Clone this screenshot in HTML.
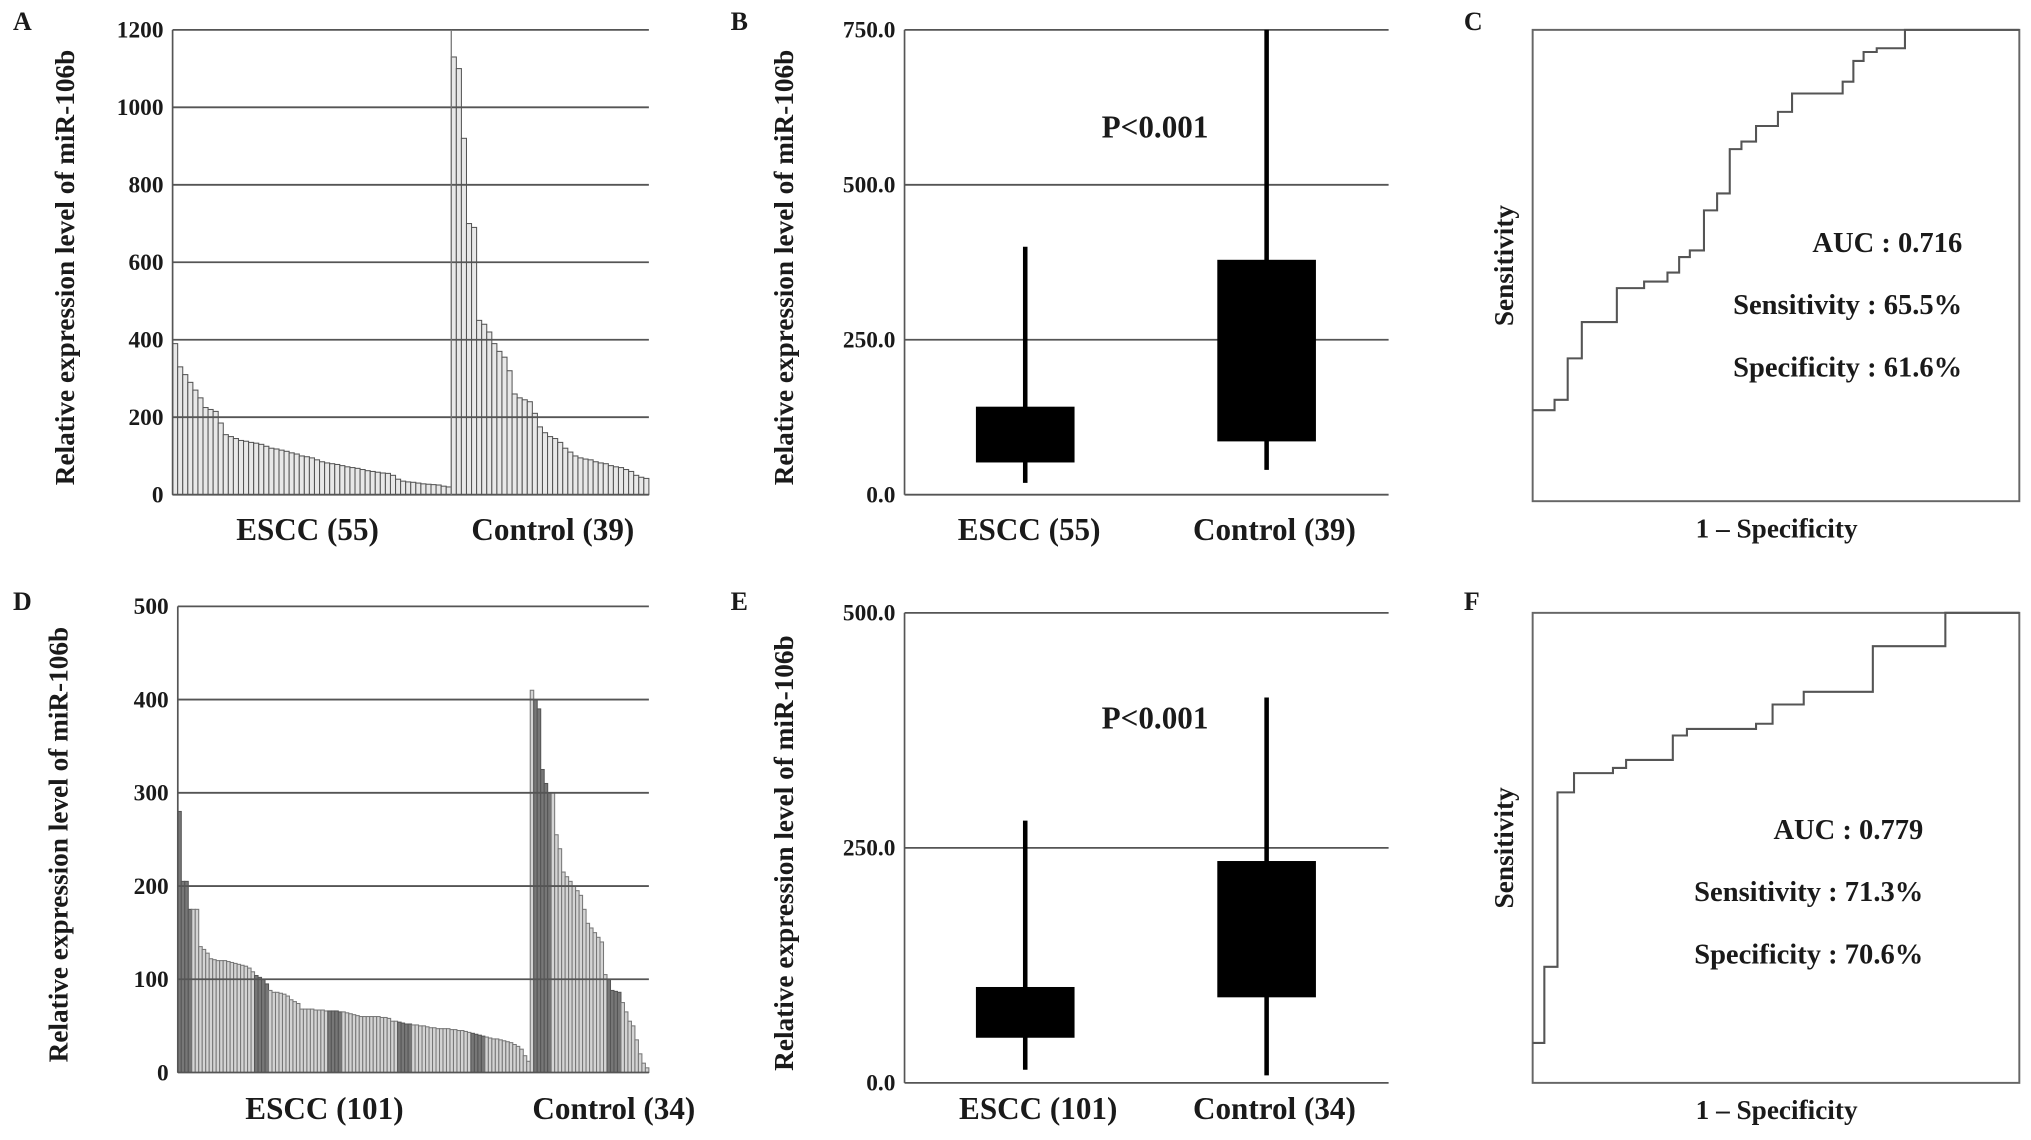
<!DOCTYPE html>
<html><head><meta charset="utf-8"><style>
html,body{margin:0;padding:0;background:#fff;}
svg{display:block;font-family:"Liberation Serif",serif;font-weight:bold;}
</style></head><body>
<svg id="fig" width="2031" height="1140" viewBox="0 0 1565 878" preserveAspectRatio="none" xmlns="http://www.w3.org/2000/svg"></svg>
<script>
// Panel A data
const aEscc=[390,330,310,290,270,250,225,220,215,185,155,150,145,140,138,135,133,130,125,120,118,115,112,108,105,100,98,95,90,85,82,80,78,75,72,70,68,65,62,60,58,56,55,50,40,35,33,32,30,28,27,26,25,22,20];
const aCtrl=[1130,1100,920,700,690,450,440,420,390,370,355,320,260,250,245,240,210,175,160,150,145,135,120,110,100,95,92,90,85,82,80,75,72,70,65,60,50,45,42];
const aTicks=[0,200,400,600,800,1000,1200];
// Panel D data
const dEscc=[280,205,205,175,175,175,135,132,128,122,121,120,120,120,119,118,117,116,115,114,112,108,104,102,100,95,88,86,86,85,84,82,78,76,74,68,68,68,68,67,67,67,66,66,66,66,65,65,64,63,62,61,60,60,60,60,60,60,59,59,58,55,55,54,53,52,52,51,51,50,50,49,48,48,47,47,47,47,46,46,45,45,44,43,42,41,40,39,38,37,36,36,35,34,33,32,30,28,25,18,12];
const dCtrl=[410,400,390,325,310,300,300,255,240,215,210,205,200,195,190,175,160,155,150,145,140,105,100,88,87,86,75,65,55,50,35,20,10,5];
const dTicks=[0,100,200,300,400,500];
// Panel B / E box data: [whiskerLow, q1, q3, whiskerHigh]
const bEscc=[19,52,142,400];
const bCtrl=[40,86,379,750];
const bTicks=[0,250,500,750];
const eEscc=[14,48,102,279];
const eCtrl=[8,91,236,410];
const eTicks=[0,250,500];
// ROC data: horizontal step segments (fpr start, tpr level)
const cFpr=[0,.045,.072,.101,.173,.229,.277,.301,.323,.352,.379,.405,.429,.459,.504,.533,.637,.659,.680,.707,.765];
const cTpr=[.193,.215,.303,.380,.452,.466,.485,.518,.532,.617,.653,.747,.763,.796,.826,.865,.890,.934,.953,.961,1.0];
const fFpr=[0,.024,.051,.085,.165,.192,.288,.317,.459,.493,.557,.699,.848];
const fTpr=[.085,.247,.618,.659,.670,.687,.739,.753,.764,.805,.832,.929,1.0];

const svg=document.getElementById('fig');
const NS='http://www.w3.org/2000/svg';
function mk(tag,attrs,parent){const e=document.createElementNS(NS,tag);for(const k in attrs)e.setAttribute(k,attrs[k]);(parent||svg).appendChild(e);return e;}
function txt(s,x,y,size,anchor,parent,rot){const t=mk('text',{x:x,y:y,'font-size':size,'text-anchor':anchor||'start','fill':'#1a1a1a'},parent);if(rot)t.setAttribute('transform','rotate(-90 '+x+' '+y+')');t.textContent=s;return t;}

function panelLetter(s,x,y){const t=txt(s,x,y,20,'start');

}

function barPanel(id,L,R,T,B,max,ticks,escc,ctrl,darkE,darkC,labels,ylabX,dec,divider,light,edge){
  const g=mk('g',{});
  
  
  const y=v=>B-(v/max)*(B-T);
  const n=escc.length+ctrl.length, w=(R-L)/n;
  const bars=mk('g',{},g);
  
  
  escc.forEach((v,i)=>{const dk=darkE.some(r=>i>=r[0]&&i<=r[1]);
    const r=mk('rect',{x:L+i*w,y:y(v),width:w,height:B-y(v),fill:dk?'#777':light,stroke:dk?'#555':edge,'stroke-width':0.8},bars);
    
    });
  ctrl.forEach((v,i)=>{const dk=darkC.some(r=>i>=r[0]&&i<=r[1]);
    const r=mk('rect',{x:L+(escc.length+i)*w,y:y(v),width:w,height:B-y(v),fill:dk?'#777':light,stroke:dk?'#555':edge,'stroke-width':0.8},bars);
    
    });
  ticks.forEach(t=>{const l=mk('line',{x1:L,x2:R,y1:y(t),y2:y(t),stroke:'#555','stroke-width':1.4},g);
    
    
    const tl=txt(dec?t.toFixed(1):String(t),L-7,y(t)+6,18,'end',g);
    
    });
  const ax=mk('line',{x1:L,x2:L,y1:T,y2:B,stroke:'#555','stroke-width':1.3},g);
  
  
  if(divider){const dv=mk('line',{x1:L+escc.length*w,x2:L+escc.length*w,y1:T,y2:B,stroke:'#777','stroke-width':1},g);
    
    }
  const yl=txt('Relative expression level of miR-106b',ylabX,(T+B)/2+4,21,'middle',g,true);
  
  
  labels.forEach(lb=>{const t=txt(lb[0],lb[1],lb[2],24,'middle',g);
    
    });
}

function boxPanel(id,L,R,T,B,max,ticks,escc,ctrl,pY,labels,labY){
  const g=mk('g',{});
  
  
  const y=v=>B-(v/max)*(B-T);
  ticks.forEach(t=>{const l=mk('line',{x1:L,x2:R,y1:y(t),y2:y(t),stroke:'#555','stroke-width':1.4},g);
    
    
    const tl=txt(t.toFixed(1),L-7,y(t)+6,18,'end',g);
    
    });
  const ax=mk('line',{x1:L,x2:L,y1:T,y2:B,stroke:'#555','stroke-width':1.3},g);
  
  
  [[escc,790,'escc'],[ctrl,976,'control']].forEach(([d,cx,nm])=>{
    const wh=mk('line',{x1:cx,x2:cx,y1:y(d[0]),y2:y(d[3]),stroke:'#000','stroke-width':3.5},g);
    
    
    const bx=mk('rect',{x:cx-38,y:y(d[2]),width:76,height:y(d[1])-y(d[2]),fill:'#000'},g);
    
    });
  const p=txt('P<0.001',890,pY,24,'middle',g);
  
  
  const yl=txt('Relative expression level of miR-106b',611,(T+B)/2+4,21,'middle',g,true);
  
  
  labels.forEach(lb=>{const t=txt(lb[0],lb[1],labY,24,'middle',g);
    
    });
}

function rocPanel(id,L,R,T,B,fpr,tpr,stats,statY){
  const g=mk('g',{});
  
  
  const fr=mk('rect',{x:L,y:T,width:R-L,height:B-T,fill:'none',stroke:'#666','stroke-width':1.5},g);
  
  
  const X=v=>L+v*(R-L), Y=v=>B-v*(B-T);
  let d='';
  fpr.forEach((f,i)=>{const nx=i+1<fpr.length?fpr[i+1]:1;
    d+=(i===0?'M':'L')+X(f)+' '+Y(tpr[i])+' L'+X(nx)+' '+Y(tpr[i])+' ';});
  const p=mk('path',{d:d,fill:'none',stroke:'#555','stroke-width':1.6},g);
  
  
  const xl=txt('1 – Specificity',1369,B+28,21,'middle',g);
  
  
  const yl=txt('Sensitivity',1166,(T+B)/2,21,'middle',g,true);
  
  
  stats.forEach((s,i)=>{const t=txt(s,statY[0],statY[1]+i*(statY[2]),22,'end',g);
    
    });
}

panelLetter('A',10,23);panelLetter('B',563,23);panelLetter('C',1128,23);
panelLetter('D',10,470);panelLetter('E',563,470);panelLetter('F',1128,470);

barPanel('a',133,500,23,381,1200,aTicks,aEscc,aCtrl,[],[],[['ESCC (55)',237,416],['Control (39)',426,416]],57,false,true,'#e8e8e8','#555');
barPanel('d',137,500,467,826,500,dTicks,dEscc,dCtrl,[[0,3],[22,25],[43,46],[63,66],[84,87]],[[1,5],[22,25]],[['ESCC (101)',250,862],['Control (34)',473,862]],52,false,false,'#d4d4d4','#777');
boxPanel('b',697,1070,23,381,750,bTicks,bEscc,bCtrl,106,[['ESCC (55)',793],['Control (39)',982]],416);
boxPanel('e',697,1070,472,834,500,eTicks,eEscc,eCtrl,561,[['ESCC (101)',800],['Control (34)',982]],862);
rocPanel('c',1181,1556,23,386,cFpr,cTpr,['AUC : 0.716','Sensitivity : 65.5%','Specificity : 61.6%'],[1512,194,48]);
rocPanel('f',1181,1556,472,834,fFpr,fTpr,['AUC : 0.779','Sensitivity : 71.3%','Specificity : 70.6%'],[1482,646,48]);
</script>
</body></html>
